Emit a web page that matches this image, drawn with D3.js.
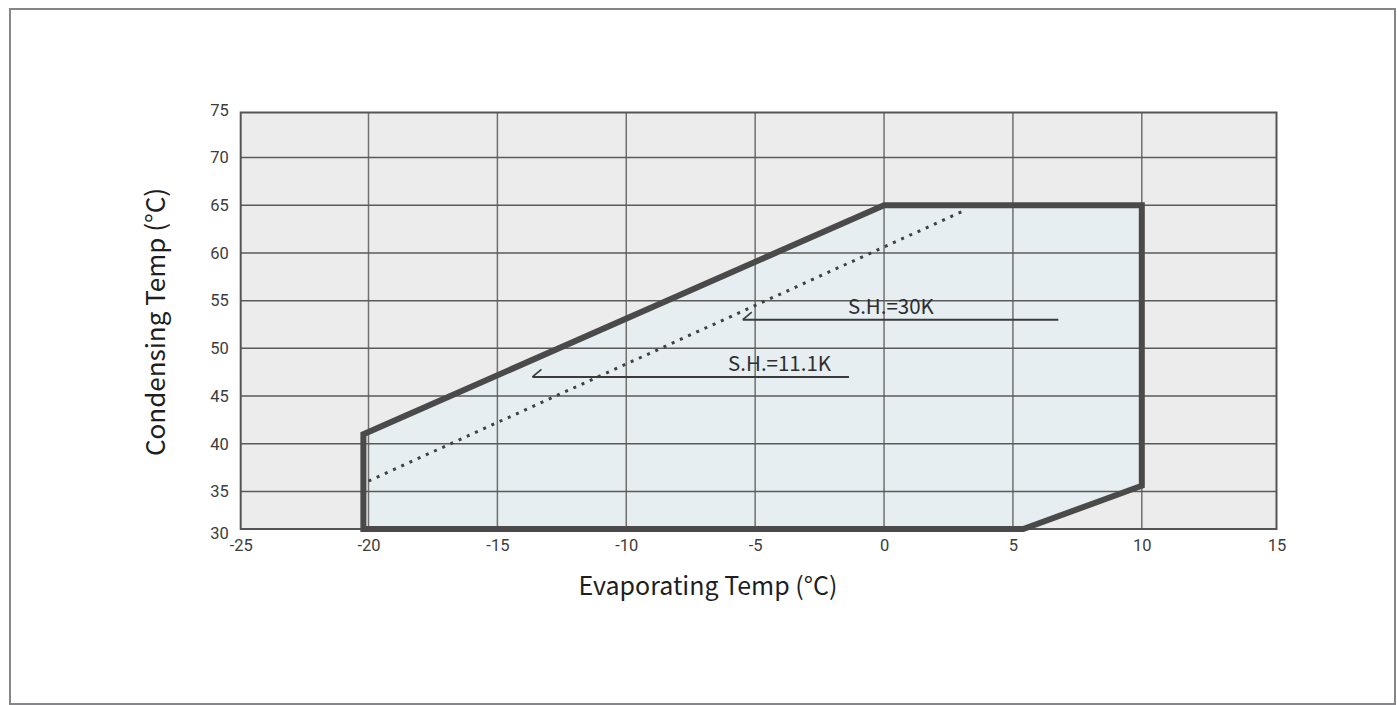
<!DOCTYPE html>
<html>
<head>
<meta charset="utf-8">
<script src="https://cdn.jsdelivr.net/npm/d3@7"></script>
<style>
  html, body { margin: 0; padding: 0; background: #fff; }
  svg { display: block; }
</style>
</head>
<body>
<svg id="chart" width="1397" height="705"></svg>
<script>
// ---- data ----
const xTicks = [-25, -20, -15, -10, -5, 0, 5, 10, 15];
const yTicks = [30, 35, 40, 45, 50, 55, 60, 65, 70, 75];
// operating envelope (evaporating, condensing)
const envelopeX = [-20.2, -20.2, 0, 10, 10, 5.4];
const envelopeY = [30, 41, 65, 65, 35.6, 30];
// dotted line
const dottedX = [-20, 3];
const dottedY = [36.1, 64.3];
// superheat annotation lines
const shLabels = ["S.H.=30K", "S.H.=11.1K"];
const shFromX = [-5.48, -13.64];
const shToX = [6.76, -1.36];
const shY = [53, 47];
const shLabelX = [-1.4, -6.05];

const svg = d3.select("#chart");

// outer frame
svg.append("rect").attr("x", 10).attr("y", 9).attr("width", 1385).attr("height", 695)
  .attr("fill", "none").attr("stroke", "#85858a").attr("stroke-width", 2);

// scales (the reference axis is slightly uneven at its ends)
const x = d3.scaleLinear().domain([-25, -20, 10, 15]).range([240.7, 368.5, 1141.8, 1276.5]);
const y = d3.scaleLinear().domain([30, 35, 70, 75]).range([529, 491.5, 157.5, 112.5]);

const x0 = x(-25), x1 = x(15), y0 = y(75), y1 = y(30);

// plot background
svg.append("rect").attr("x", x0).attr("y", y0).attr("width", x1 - x0).attr("height", y1 - y0)
  .attr("fill", "#ececec");

// envelope fill
const pts = envelopeX.map((v, i) => [x(v), y(envelopeY[i])]);
svg.append("polygon").attr("points", pts.map(p => p.join(",")).join(" "))
  .attr("fill", "#e6eef1").attr("stroke", "none");

// grid
const grid = svg.append("g");
grid.selectAll("line.vx").data(xTicks.slice(1, -1)).join("line")
  .attr("x1", d => x(d)).attr("x2", d => x(d)).attr("y1", y0).attr("y2", y1)
  .attr("stroke", "#707070").attr("stroke-width", 1.5);
grid.selectAll("line.hy").data(yTicks.slice(1, -1)).join("line")
  .attr("x1", x0).attr("x2", x1).attr("y1", d => y(d)).attr("y2", d => y(d))
  .attr("stroke", "#5a5a5a").attr("stroke-width", 1.5);

// plot border
svg.append("rect").attr("x", x0).attr("y", y0).attr("width", x1 - x0).attr("height", y1 - y0)
  .attr("fill", "none").attr("stroke", "#555").attr("stroke-width", 2);

// axes (tick labels only)
const fmt = d => String(d);
const xAxis = svg.append("g").attr("transform", `translate(0,${y1})`)
  .call(d3.axisBottom(x).tickValues(xTicks).tickFormat(fmt).tickSize(0).tickPadding(10));
const yAxis = svg.append("g").attr("transform", `translate(${x0},0)`)
  .call(d3.axisLeft(y).tickValues(yTicks).tickFormat(fmt).tickSize(0).tickPadding(12));
[xAxis, yAxis].forEach(a => {
  a.select(".domain").remove();
  a.selectAll("text").attr("fill", "#3c3c3c").attr("font-family", "Roboto, 'DejaVu Sans', sans-serif")
    .attr("font-size", 16.5);
});
yAxis.selectAll("text").filter(d => d === 30).attr("dy", "0.55em");
yAxis.selectAll("text").filter(d => d === 75).attr("dy", "0.2em");

// dotted line
svg.append("line")
  .attr("x1", x(dottedX[0])).attr("y1", y(dottedY[0]))
  .attr("x2", x(dottedX[1])).attr("y2", y(dottedY[1]))
  .attr("stroke", "#404040").attr("stroke-width", 3)
  .attr("stroke-dasharray", "3,6");

// envelope outline
svg.append("polygon").attr("points", pts.map(p => p.join(",")).join(" "))
  .attr("fill", "none").attr("stroke", "#4a4a4a").attr("stroke-width", 6)
  .attr("stroke-linejoin", "miter");

// superheat lines with hooks
const sh = svg.append("g");
shLabels.forEach((lab, i) => {
  const tx = x(shFromX[i]), ty = y(shY[i]);
  sh.append("line").attr("x1", tx).attr("y1", ty).attr("x2", x(shToX[i])).attr("y2", ty)
    .attr("stroke", "#3a3a3a").attr("stroke-width", 2);
  sh.append("line").attr("x1", tx).attr("y1", ty).attr("x2", tx + 9).attr("y2", ty - 7.5)
    .attr("stroke", "#3a3a3a").attr("stroke-width", 1.6);
  sh.append("text").attr("x", x(shLabelX[i])).attr("y", ty - 6)
    .attr("font-family", "'Noto Sans CJK SC', 'Noto Sans', sans-serif").attr("font-size", 20.5)
    .attr("fill", "#2e2e2e").text(lab);
});

// axis titles
svg.append("text").attr("x", 708).attr("y", 595).attr("text-anchor", "middle")
  .attr("font-family", "'Noto Sans CJK SC', 'Noto Sans', sans-serif").attr("font-size", 25)
  .attr("fill", "#1e1e1e").text("Evaporating Temp (°C)");
svg.append("text").attr("transform", "translate(165,322) rotate(-90)").attr("text-anchor", "middle")
  .attr("font-family", "'Noto Sans CJK SC', 'Noto Sans', sans-serif").attr("font-size", 26)
  .attr("fill", "#1e1e1e").text("Condensing Temp (°C)");
</script>
</body>
</html>
